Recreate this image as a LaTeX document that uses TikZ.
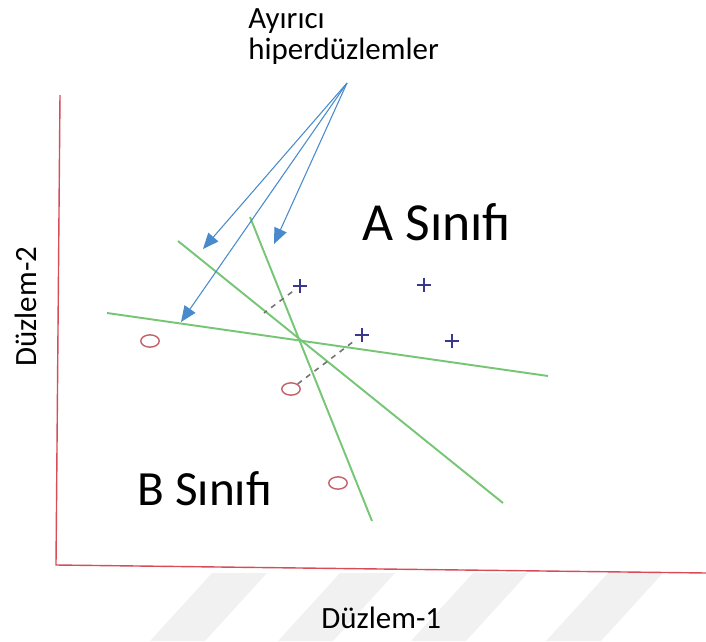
\documentclass[tikz,border=0pt]{standalone}
\usepackage{fontspec}
\setmainfont{Carlito}
\usetikzlibrary{arrows.meta,shapes.geometric}

\definecolor{hypgreen}{RGB}{118,198,118}
\definecolor{axisred}{RGB}{214,76,88}
\definecolor{arrowblue}{RGB}{72,138,204}
\definecolor{plusblue}{RGB}{58,56,140}
\definecolor{ringred}{RGB}{196,96,104}
\definecolor{band}{RGB}{241,241,241}

\begin{document}
\begin{tikzpicture}[x=0.2mm,y=-0.2mm,every node/.style={inner sep=0pt},
  hyper/.style={draw=hypgreen,line width=1.1pt},
  pointer/.style={draw=arrowblue,line width=0.6pt,-{Triangle[length=9pt,width=7.5pt]}},
  margin/.style={draw=black!55,line width=0.9pt,dash pattern=on 3pt off 3pt},
  plus/.style={minimum size=8.5pt,path picture={
      \draw[plusblue,line width=1.3pt]
        (path picture bounding box.north) -- (path picture bounding box.south)
        (path picture bounding box.west) -- (path picture bounding box.east);}},
  ring/.style={ellipse,draw=ringred,line width=0.8pt,minimum width=10.5pt,minimum height=7pt},
  small/.style={font=\fontsize{17.6}{17.6}\selectfont},
  big/.style={font=\fontsize{28}{30}\selectfont}]

\useasboundingbox (0,0) rectangle (706,641);

% stripes under the axis
\foreach \x in {212,340,473,608}
  \fill[band] (\x,573) -- ++(55,0) -- ++(-62,68) -- ++(-55,0) -- cycle;

% axes
\draw[axisred,line width=0.8pt] (60,95) -- (56,565) -- (706,573);

\node[small,anchor=base west] (ax1) at (321,628) {Düzlem-1};
\node[small,anchor=base west,rotate=90] (ax2) at (37,367) {Düzlem-2};

% hyperplanes
\draw[hyper] (250,217) -- (372,521);
\draw[hyper] (178,241) -- (503,503);
\draw[hyper] (107,313) -- (548,376);

% samples
\node[plus] (p1) at (300,286) {};
\node[plus] (p2) at (424,285) {};
\node[plus] (p3) at (362,335) {};
\node[plus] (p4) at (452,341) {};
\node[ring] (o1) at (150,341) {};
\node[ring] (o2) at (291,389) {};
\node[ring] (o3) at (338,483) {};

\coordinate (m1) at (264,313);
\draw[margin] (p1) -- (m1);
\draw[margin] (o2) -- (p3);

\node[big,anchor=base west,font=\fontsize{30.5}{32}\selectfont] (clsA) at (362,240) {A Sınıfı};
\node[big,anchor=base west] (clsB) at (137,505) {B Sınıfı};

% label and its arrows
\node[small,anchor=north west,align=left] (sep) at (248,8) {Ayırıcı\\hiperdüzlemler};
\coordinate (src) at (347,83);
\coordinate (t1) at (203,249);
\coordinate (t2) at (181,322);
\coordinate (t3) at (274,244);
\draw[pointer] (src) -- (t1);
\draw[pointer] (src) -- (t2);
\draw[pointer] (src) -- (t3);

\end{tikzpicture}
\end{document}
